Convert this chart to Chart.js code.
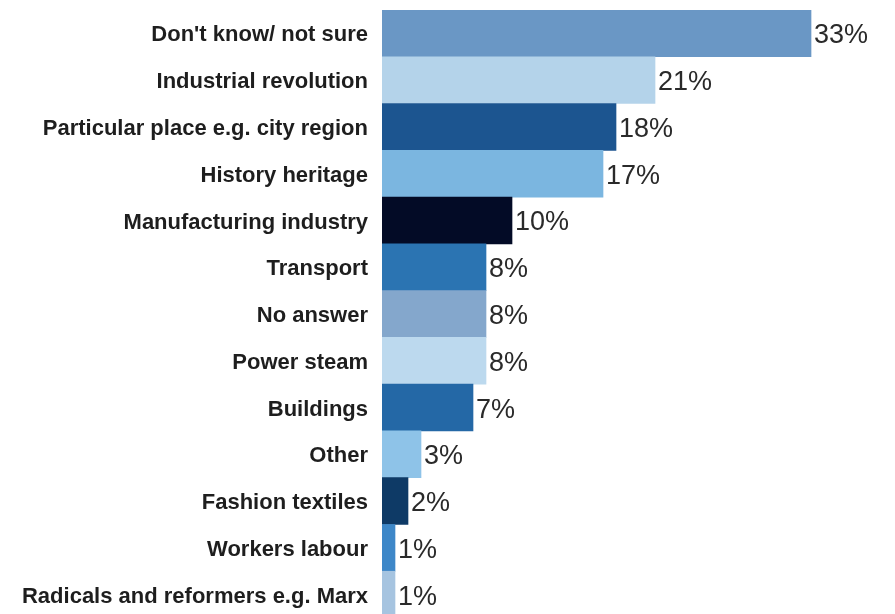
<!DOCTYPE html>
<html>
<head>
<meta charset="utf-8">
<script src="https://cdn.jsdelivr.net/npm/chart.js@4.4.0/dist/chart.umd.min.js"></script>
<style>
  html, body { margin: 0; padding: 0; background: #fff; overflow: hidden; }
  #wrap { width: 895px; height: 626px; position: relative; }
</style>
</head>
<body>
<div id="wrap"><canvas id="chart"></canvas></div>
<script>
(function() {
    // answers, largest first
    var categories = [
        "Don't know/ not sure",
        "Industrial revolution",
        "Particular place e.g. city region",
        "History heritage",
        "Manufacturing industry",
        "Transport",
        "No answer",
        "Power steam",
        "Buildings",
        "Other",
        "Fashion textiles",
        "Workers labour",
        "Radicals and reformers e.g. Marx"
    ];
    var shares = [33, 21, 18, 17, 10, 8, 8, 8, 7, 3, 2, 1, 1];
    var barColours = [
        "#6a97c5", "#b4d3ea", "#1c5590", "#7bb6e0", "#030b26",
        "#2b74b2", "#84a7cc", "#bcd9ee", "#2468a6", "#8ec3e8",
        "#0e3a66", "#3d87c8", "#a6c4e0"
    ];

    // percent text at the end of each bar
    var valueLabels = {
        id: 'valueLabels',
        afterDatasetsDraw: function(chart) {
            var ctx = chart.ctx;
            var meta = chart.getDatasetMeta(0);
            ctx.save();
            ctx.font = '27px "Liberation Sans", Arial, sans-serif';
            ctx.fillStyle = '#2a2a2a';
            ctx.textAlign = 'left';
            ctx.textBaseline = 'alphabetic';
            meta.data.forEach(function(bar, i) {
                ctx.fillText(shares[i] + '%', bar.x + 3, bar.y + 10);
            });
            ctx.restore();
        }
    };

    new Chart(document.getElementById('chart'), {
        type: 'bar',
        data: {
            labels: categories,
            datasets: [{
                data: shares,
                backgroundColor: barColours,
                borderWidth: 0,
                barPercentage: 1,
                categoryPercentage: 1
            }]
        },
        options: {
            indexAxis: 'y',
            responsive: true,
            maintainAspectRatio: false,
            animation: false,
            layout: { padding: { top: 10, right: 0, bottom: 8, left: 0 } },
            plugins: {
                legend: { display: false },
                tooltip: { enabled: false }
            },
            scales: {
                x: {
                    display: false,
                    min: 0,
                    max: 39.46
                },
                y: {
                    grid: { display: false, drawTicks: false },
                    border: { display: false },
                    ticks: {
                        padding: 14,
                        labelOffset: 2,
                        color: '#1e1e1e',
                        font: { family: '"Liberation Sans", Arial, sans-serif', size: 22, weight: 'bold' }
                    },
                    afterFit: function(scale) {
                        scale.width = 382;
                        scale.paddingTop = 0;
                        scale.paddingBottom = 0;
                    }
                }
            }
        },
        plugins: [valueLabels]
    });
})();
</script>
</body>
</html>
